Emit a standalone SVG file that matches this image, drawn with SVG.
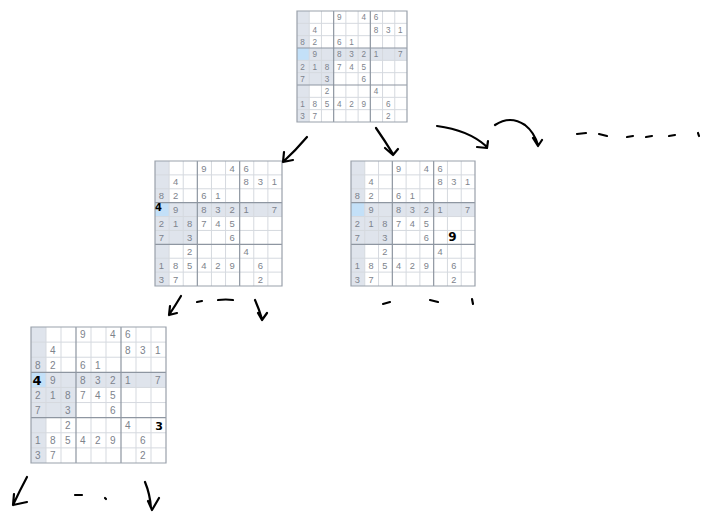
<svg xmlns="http://www.w3.org/2000/svg" xmlns:xlink="http://www.w3.org/1999/xlink" width="701" height="513" viewBox="0 0 701 513">
<style>
.thin{stroke:#d5d9df;stroke-width:1;fill:none;vector-effect:non-scaling-stroke}
.thick{stroke:#8e96a1;stroke-width:1.2;fill:none;vector-effect:non-scaling-stroke}
.border{stroke:#9aa1ab;stroke-width:1.2;fill:none;vector-effect:non-scaling-stroke}
.dg{font-family:"Liberation Sans",Arial,sans-serif;font-size:6.7px;fill:#7d838c;text-anchor:middle}
.hw{font-family:"DejaVu Sans",sans-serif;font-weight:bold;fill:#000;text-anchor:middle}
.pen{stroke:#000;stroke-width:2.2;fill:none;stroke-linecap:round;stroke-linejoin:round}
</style>
<defs>
<g id="board">
<rect x="0" y="0" width="90" height="90" fill="#fff"/>
<rect x="0" y="0" width="10" height="90" fill="#dfe4ec"/>
<rect x="0" y="30" width="90" height="10" fill="#dfe4ec"/>
<rect x="0" y="30" width="30" height="30" fill="#dfe4ec"/>
<rect x="0" y="30" width="10" height="10" fill="#c3e0f8"/>
<path class="thin" d="M10,0V90M20,0V90M40,0V90M50,0V90M70,0V90M80,0V90M0,10H90M0,20H90M0,40H90M0,50H90M0,70H90M0,80H90"/>
<path class="thick" d="M30,0V90M60,0V90M0,30H90M0,60H90"/>
<rect class="border" x="0" y="0" width="90" height="90"/>
<text class="dg" y="7.6" x="34.6 54.6 64.6">946</text>
<text class="dg" y="17.6" x="14.6 64.6 74.6 84.6">4831</text>
<text class="dg" y="27.6" x="4.6 14.6 34.6 44.6">8261</text>
<text class="dg" y="37.6" x="14.6 34.6 44.6 54.6 64.6 84.6">983217</text>
<text class="dg" y="47.6" x="4.6 14.6 24.6 34.6 44.6 54.6">218745</text>
<text class="dg" y="57.6" x="4.6 24.6 54.6">736</text>
<text class="dg" y="67.6" x="24.6 64.6">24</text>
<text class="dg" y="77.6" x="4.6 14.6 24.6 34.6 44.6 54.6 74.6">1854296</text>
<text class="dg" y="87.6" x="4.6 14.6 74.6">372</text>
</g>
</defs>

<g id="node-root" transform="translate(297,11) scale(1.2222,1.2333)"><use xlink:href="#board" href="#board"/></g>

<g id="node-left" transform="translate(155,161) scale(1.4111,1.3889)"><use xlink:href="#board" href="#board"/></g>
<g id="node-left-mark"><text class="hw" x="158.5" y="211" font-size="10">4</text></g>

<g id="node-right" transform="translate(351,161) scale(1.3778,1.3889)"><use xlink:href="#board" href="#board"/></g>
<g id="node-right-mark"><text class="hw" x="452.5" y="241" font-size="12">9</text></g>

<g id="node-leftleft" transform="translate(31,327) scale(1.5,1.5111)"><use xlink:href="#board" href="#board"/></g>
<g id="node-leftleft-mark">
<text class="hw" x="37" y="385" font-size="13">4</text>
<text class="hw" x="159" y="430" font-size="11">3</text>
</g>

<g id="connectors">
<path class="pen" d="M307,137 Q296,150 283,162 M284,152 L283,162 L293,160"/>
<path class="pen" d="M376,128 Q385,141 393,154 M385,148 L393,155 L398,149"/>
<path class="pen" d="M437,126 Q468,130 486,146 M477,147 L487,148 L488,141"/>
<path class="pen" d="M495,125 Q510,115 525,125 Q534,132 538,145 M533,138 L538,146 L542,140"/>
<path class="pen" d="M577,134 L586,133 M599,134 L607,136 M627,137 L633,136 M646,137 L652,136 M669,136 L675,135 M698,133 L699,136"/>
<path class="pen" d="M181,296 Q175,306 169,315 M170,306 L169,315 L177,313"/>
<path class="pen" d="M197,302 L202,301 M218,300 Q226,299 233,300"/>
<path class="pen" d="M255,300 Q259,309 262,319 M258,313 L262,320 L267,313"/>
<path class="pen" d="M383,304 L390,302 M430,300 L438,302 M472,299 L473,304"/>
<path class="pen" d="M27,477 Q20,490 13,505 M14,494 L13,505 L27,502"/>
<path class="pen" d="M75,495 L82,495 M105,498 L106,499"/>
<path class="pen" d="M145,482 Q150,494 151,508 M148,501 L152,510 L159,498"/>
</g>
</svg>
